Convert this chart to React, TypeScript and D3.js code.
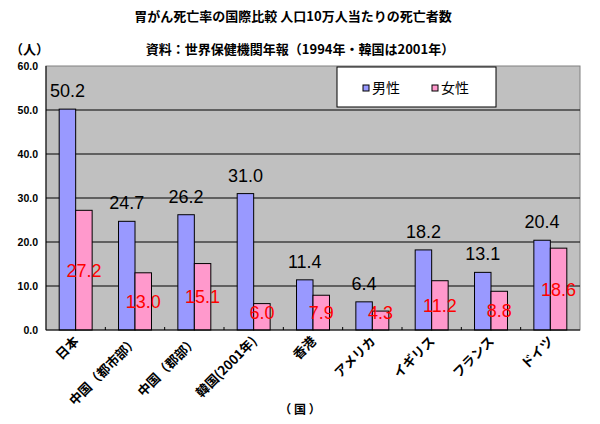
import React, { useEffect, useRef } from 'react';
import * as d3 from 'd3';

// 胃がん死亡率 (人口10万人当たり)
const countries = ['日本', '中国（都市部）', '中国（郡部）', '韓国(2001年)', '香港', 'アメリカ', 'イギリス', 'フランス', 'ドイツ'];
const maleValues = [50.2, 24.7, 26.2, 31.0, 11.4, 6.4, 18.2, 13.1, 20.4];
const femaleValues = [27.2, 13.0, 15.1, 6.0, 7.9, 4.3, 11.2, 8.8, 18.6];
const seriesNames = ['男性', '女性'];
const yTicks = [0, 10, 20, 30, 40, 50, 60];

const MALE = '#9999ff';
const FEMALE = '#ff99cc';
const JP = '"Noto Sans CJK JP", sans-serif';
const NUM = '"Liberation Sans", Arial, sans-serif';

const App: React.FC = () => {
  const svgRef = useRef<SVGSVGElement>(null);

  useEffect(() => {
    document.body.style.margin = '0';
    if (!svgRef.current) return;
    const svg = d3.select(svgRef.current);
    svg.selectAll('*').remove();

    const left = 46, right = 580, top = 66, bottom = 330;

    const x0 = d3.scaleBand<string>().domain(countries).range([left, right]).padding(0);
    const x1 = d3.scaleBand<string>().domain(seriesNames).range([0, x0.bandwidth()])
      .paddingInner(0).paddingOuter(0.8);
    const y = d3.scaleLinear().domain([0, 60]).range([bottom, top]);

    // plot area
    svg.append('rect')
      .attr('x', left).attr('y', top)
      .attr('width', right - left).attr('height', bottom - top)
      .attr('fill', '#c0c0c0')
      .attr('stroke', '#808080');

    // gridlines
    svg.append('g')
      .selectAll('line')
      .data(yTicks.filter(t => t > 0 && t < 60))
      .join('line')
      .attr('x1', left).attr('x2', right)
      .attr('y1', d => y(d)).attr('y2', d => y(d))
      .attr('stroke', '#000').attr('stroke-width', 1);

    // y tick labels
    svg.append('g')
      .selectAll('text')
      .data(yTicks)
      .join('text')
      .attr('x', 38)
      .attr('y', d => y(d))
      .attr('dy', '0.36em')
      .attr('text-anchor', 'end')
      .style('font-family', NUM)
      .style('font-size', '10.5px')
      .style('font-weight', 'bold')
      .text(d => d.toFixed(1));

    // bars
    const groups = svg.append('g')
      .selectAll('g')
      .data(countries)
      .join('g')
      .attr('transform', d => `translate(${x0(d)},0)`);

    groups.append('rect')
      .attr('x', x1('男性')!)
      .attr('y', (_, i) => y(maleValues[i]))
      .attr('width', x1.bandwidth())
      .attr('height', (_, i) => y(0) - y(maleValues[i]))
      .attr('fill', MALE)
      .attr('stroke', '#000');

    groups.append('rect')
      .attr('x', x1('女性')!)
      .attr('y', (_, i) => y(femaleValues[i]))
      .attr('width', x1.bandwidth())
      .attr('height', (_, i) => y(0) - y(femaleValues[i]))
      .attr('fill', FEMALE)
      .attr('stroke', '#000');

    // value labels
    groups.append('text')
      .attr('x', x1('男性')! + x1.bandwidth() / 2)
      .attr('y', (_, i) => y(maleValues[i]) - 18.5 + 6.5)
      .attr('text-anchor', 'middle')
      .style('font-family', NUM)
      .style('font-size', '18px')
      .style('fill', '#000')
      .text((_, i) => maleValues[i].toFixed(1));

    groups.append('text')
      .attr('x', x1('女性')! + x1.bandwidth() / 2)
      .attr('y', (_, i) => Math.min((y(femaleValues[i]) + y(0)) / 2, bottom - 18) + 6.5)
      .attr('text-anchor', 'middle')
      .style('font-family', NUM)
      .style('font-size', '18px')
      .style('fill', '#ff0000')
      .text((_, i) => femaleValues[i].toFixed(1));

    // bottom axis line + inner ticks
    svg.append('line')
      .attr('x1', left).attr('x2', right)
      .attr('y1', bottom).attr('y2', bottom)
      .attr('stroke', '#000');
    svg.append('line')
      .attr('x1', left).attr('x2', left)
      .attr('y1', top).attr('y2', bottom)
      .attr('stroke', '#000');
    svg.append('g')
      .selectAll('line')
      .data(countries.slice(1))
      .join('line')
      .attr('x1', d => x0(d)!).attr('x2', d => x0(d)!)
      .attr('y1', bottom).attr('y2', bottom - 3)
      .attr('stroke', '#000');

    // category labels
    svg.append('g')
      .selectAll('text')
      .data(countries)
      .join('text')
      .attr('transform', d => `translate(${x0(d)! + x0.bandwidth() / 2 + 4},${bottom + 12}) rotate(-45)`)
      .attr('text-anchor', 'end')
      .style('font-family', JP)
      .style('font-size', '13px')
      .style('font-weight', 'bold')
      .text(d => d);

    // legend
    const lg = svg.append('g');
    lg.append('rect')
      .attr('x', 337).attr('y', 67).attr('width', 159).attr('height', 40)
      .attr('fill', '#fff').attr('stroke', '#000');
    [MALE, FEMALE].forEach((c, i) => {
      const lx = 363 + i * 69;
      lg.append('rect')
        .attr('x', lx).attr('y', 85).attr('width', 6).attr('height', 6)
        .attr('fill', c).attr('stroke', '#000');
      lg.append('text')
        .attr('x', lx + 9).attr('y', 93)
        .style('font-family', JP)
        .style('font-size', '14px')
        .text(seriesNames[i]);
    });

    // titles
    svg.append('text')
      .attr('x', 293).attr('y', 21)
      .attr('text-anchor', 'middle')
      .style('font-family', JP).style('font-size', '13px').style('font-weight', 'bold')
      .text('胃がん死亡率の国際比較 人口10万人当たりの死亡者数');
    svg.append('text')
      .attr('x', 300).attr('y', 54)
      .attr('text-anchor', 'middle')
      .style('font-family', JP).style('font-size', '13px').style('font-weight', 'bold')
      .text('資料：世界保健機関年報（1994年・韓国は2001年）');
    svg.append('text')
      .attr('x', 10).attr('y', 54)
      .style('font-family', JP).style('font-size', '13px').style('font-weight', 'bold')
      .text('（人）');
    svg.append('text')
      .attr('x', 300).attr('y', 414)
      .attr('text-anchor', 'middle')
      .style('font-family', JP).style('font-size', '12px').style('font-weight', 'bold')
      .text('（ 国 ）');
  }, []);

  return (
    <svg ref={svgRef} width={600} height={424} style={{ display: 'block', background: '#fff' }} />
  );
};

export default App;
